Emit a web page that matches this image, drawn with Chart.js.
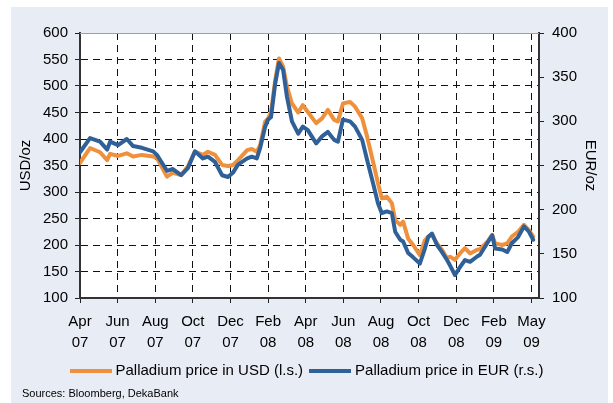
<!DOCTYPE html>
<html>
<head>
<meta charset="utf-8">
<script src="https://cdn.jsdelivr.net/npm/chart.js@4.4.1/dist/chart.umd.min.js"></script>
<style>
  body { margin: 0; background: #fff; font-family: "Liberation Sans", Arial, sans-serif; }
  #wrap { position: relative; width: 613px; height: 403px; }
  #panel { position: absolute; left: 11px; top: 7px; width: 597px; height: 396px; background: #e8ecf5; }
  #c { position: absolute; left: 0; top: 0; }
  #legend { position: absolute; left: 0; top: 361px; width: 613px; text-align: center; font-size: 15px; line-height: 18px; color: #000; white-space: nowrap; }
  .item { display: inline-block; margin: 0 3px; }
  .swatch { display: inline-block; width: 42px; height: 4px; vertical-align: middle; margin-right: 4px; }
  #source { position: absolute; left: 22px; top: 387px; font-size: 11px; color: #000; }
</style>
</head>
<body>
<div id="wrap">
  <div id="panel"></div>
  <canvas id="c" width="613" height="403"></canvas>
  <div id="legend"></div>
  <div id="source">Sources: Bloomberg, DekaBank</div>
</div>
<script>
// weeks since start of Apr 2007 (weekly data)
const weeks = [0, 2.4, 4.8, 6.5, 7.2, 9.1, 11.2, 12.7, 14.8, 17.5,
  18.4, 20.8, 22.2, 24.2, 25.8, 27.5, 29.4, 30.6, 32.3, 34.0,
  35.4, 36.6, 37.8, 40.0, 41.1, 42.3, 43.1, 44.3, 45.0, 45.7,
  46.7, 47.6, 48.6, 49.5, 50.7, 52.2, 53.3, 54.5, 56.5, 57.9,
  59.3, 60.8, 61.7, 62.9, 64.6, 65.8, 67.5, 68.7, 70.1, 71.3,
  72.2, 73.4, 74.6, 75.4, 76.6, 77.3, 78.5, 79.7, 81.3, 82.5,
  83.3, 84.2, 85.4, 86.6, 87.8, 88.5, 89.7, 90.9, 92.1, 93.3,
  95.0, 95.7, 97.4, 98.6, 99.3, 101.0, 102.2, 103.3, 104.8, 106.2,
  107.4, 108.4];
const usd = [355, 383, 375, 360, 372, 368, 373, 367, 370, 367,
  364, 329, 336, 332, 348, 376, 370, 376, 370, 351,
  349, 351, 360, 379, 381, 376, 389, 433, 439, 451,
  511, 552, 536, 499, 467, 450, 464, 451, 430, 439,
  455, 436, 433, 467, 470, 461, 439, 404, 357, 316,
  288, 291, 279, 247, 238, 244, 212, 200, 181, 209,
  216, 219, 203, 191, 175, 178, 172, 184, 194, 184,
  191, 192, 206, 219, 203, 200, 203, 216, 225, 238,
  228, 216];
const eur = [265, 281, 277, 268, 277, 273, 280, 272, 270, 266,
  262, 244, 246, 239, 247, 266, 258, 260, 254, 239,
  237, 242, 251, 258, 260, 258, 270, 294, 302, 305,
  343, 366, 358, 328, 300, 286, 294, 290, 275, 283,
  288, 279, 277, 302, 300, 294, 279, 256, 230, 207,
  196, 198, 196, 175, 166, 164, 151, 146, 139, 156,
  169, 173, 160, 152, 143, 137, 126, 135, 143, 141,
  147, 149, 162, 171, 156, 155, 152, 162, 169, 181,
  175, 166];
const tickMonths = ['Apr', 'Jun', 'Aug', 'Oct', 'Dec', 'Feb', 'Apr', 'Jun', 'Aug', 'Oct', 'Dec', 'Feb', 'May'];
const tickYears = ['07', '07', '07', '07', '07', '08', '08', '08', '08', '08', '08', '09', '09'];

Chart.defaults.font.family = '"Liberation Sans", Arial, sans-serif';
Chart.defaults.color = '#000';

// white plot area + thin grey top frame
const plotBg = {
  id: 'plotBg',
  beforeDraw(chart) {
    const {ctx, chartArea: a} = chart;
    ctx.save();
    ctx.fillStyle = '#fff';
    ctx.fillRect(a.left, a.top, a.right - a.left, a.bottom - a.top);
    ctx.restore();
  },
  beforeDatasetsDraw(chart) {
    const {ctx, chartArea: a} = chart;
    ctx.save();
    ctx.strokeStyle = '#a0a0a0';
    ctx.lineWidth = 1;
    ctx.beginPath();
    ctx.moveTo(a.left, a.top + 0.5);
    ctx.lineTo(a.right, a.top + 0.5);
    ctx.stroke();
    ctx.restore();
  }
};

const line = {borderWidth: 4, pointRadius: 0, tension: 0, borderJoinStyle: 'round', borderCapStyle: 'round', fill: false};

const chart = new Chart(document.getElementById('c'), {
  type: 'line',
  data: {
    datasets: [
      Object.assign({
        label: 'Palladium price in USD (l.s.)',
        data: weeks.map((w, i) => ({x: w, y: usd[i]})),
        borderColor: '#ef913c', backgroundColor: '#ef913c',
        yAxisID: 'y', order: 1
      }, line),
      Object.assign({
        label: 'Palladium price in EUR (r.s.)',
        data: weeks.map((w, i) => ({x: w, y: eur[i]})),
        borderColor: '#2f6198', backgroundColor: '#2f6198',
        yAxisID: 'y1', order: 0
      }, line)
    ]
  },
  options: {
    responsive: false,
    animation: false,
    layout: {padding: {left: 11, top: 33, right: 0, bottom: 47}},
    plugins: {legend: {display: false}, tooltip: {enabled: false}},
    scales: {
      x: {
        type: 'linear', min: 0, max: 109.8,
        afterFit: s => { s.height = 58; },
        ticks: {
          stepSize: 9, includeBounds: false, autoSkip: false, maxRotation: 0, padding: 8,
          font: {size: 15, lineHeight: 1.4},
          callback: v => { const i = Math.round(v / 9); return [tickMonths[i], tickYears[i]]; }
        },
        grid: {color: '#111', lineWidth: 1, tickLength: 5, tickColor: '#222', tickBorderDash: []},
        border: {color: '#333', width: 2, dash: [7, 5]}
      },
      y: {
        position: 'left', min: 100, max: 600,
        afterFit: s => { s.width = 69; },
        ticks: {stepSize: 50, padding: 7, font: {size: 15}},
        grid: {
          color: c => (c.tick && c.tick.value === 600) ? 'rgba(0,0,0,0)' : '#111',
          tickColor: '#222', tickLength: 5, tickBorderDash: []
        },
        border: {color: '#333', width: 2, dash: [7, 5]},
        title: {display: true, text: 'USD/oz', font: {size: 15}, padding: {top: 6, bottom: 0}}
      },
      y1: {
        position: 'right', min: 100, max: 400,
        afterFit: s => { s.width = 74; },
        ticks: {stepSize: 50, padding: 8, font: {size: 15}},
        grid: {drawOnChartArea: false, tickColor: '#222', tickLength: 5, tickBorderDash: []},
        border: {color: '#333', width: 2},
        title: {display: true, text: 'EUR/oz', font: {size: 15}, padding: {top: 14, bottom: 0}}
      }
    }
  },
  plugins: [plotBg]
});

// legend below the axis
document.getElementById('legend').innerHTML = chart.data.datasets.map(d =>
  `<span class="item"><span class="swatch" style="background:${d.borderColor}"></span>${d.label}</span>`
).join('');
</script>
</body>
</html>
